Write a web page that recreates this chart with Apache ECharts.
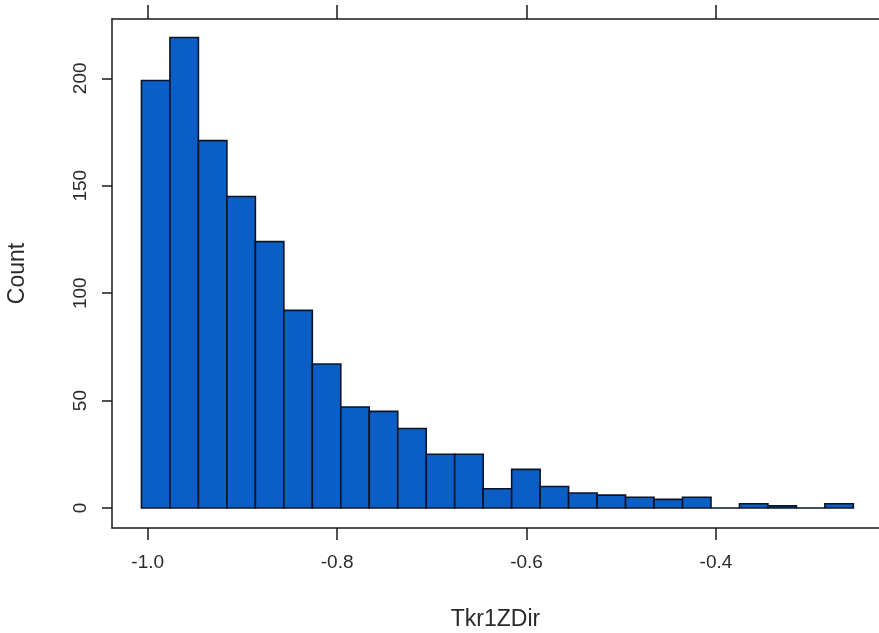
<!DOCTYPE html>
<html>
<head>
<meta charset="utf-8">
<script src="https://cdn.jsdelivr.net/npm/echarts@6/dist/echarts.min.js"></script>
<style>
html,body{margin:0;padding:0;background:#fff;}
#chart{width:879px;height:633px;}
</style>
</head>
<body>
<div id="chart"></div>
<script>
// Histogram of Tkr1ZDir
const binStart = -1.0066;
const binWidth = 0.03007;
const counts = [199, 219, 171, 145, 124, 92, 67, 47, 45, 37, 25, 25, 9, 18, 10, 7, 6, 5, 4, 5, 0, 2, 1, 0, 2];
const xTicks = [-1.0, -0.8, -0.6, -0.4];
const yTicks = [0, 50, 100, 150, 200];
const xName = 'Tkr1ZDir';
const yName = 'Count';

const data = counts.map((c, i) => [binStart + i * binWidth, binStart + (i + 1) * binWidth, c]);

const font = "'Liberation Sans', Arial, sans-serif";
const textColor = '#2a2a2a';
const lineColor = '#1a1a1a';

const chart = echarts.init(document.getElementById('chart'), null, {renderer: 'canvas'});
chart.setOption({
  animation: false,
  backgroundColor: '#fff',
  grid: {left: 112, top: 19, right: 0, bottom: 105, containLabel: false, outerBoundsMode: 'none'},
  xAxis: [{
    type: 'value', position: 'bottom', min: -1.0377, max: -0.2278,
    axisLine: {show: true, onZero: false, lineStyle: {color: lineColor, width: 1.5}},
    axisTick: {show: true, length: 12, customValues: xTicks, lineStyle: {color: lineColor, width: 1.5}},
    axisLabel: {customValues: xTicks, margin: 25, fontSize: 19, fontFamily: font, color: textColor,
      formatter: v => v.toFixed(1)},
    splitLine: {show: false},
    name: xName, nameLocation: 'middle', nameGap: 80,
    nameTextStyle: {fontSize: 23, fontFamily: font, color: textColor}
  }, {
    type: 'value', position: 'top', min: -1.0377, max: -0.2278,
    axisLine: {show: true, onZero: false, lineStyle: {color: lineColor, width: 1.5}},
    axisTick: {show: true, length: 14, customValues: xTicks, lineStyle: {color: lineColor, width: 1.5}},
    axisLabel: {show: false},
    splitLine: {show: false}
  }],
  yAxis: {
    type: 'value', min: -9.3, max: 227.6,
    axisLine: {show: true, onZero: false, lineStyle: {color: lineColor, width: 1.5}},
    axisTick: {show: true, length: 10, customValues: yTicks, lineStyle: {color: lineColor, width: 1.5}},
    axisLabel: {customValues: yTicks, margin: 22, rotate: 90, fontSize: 19, fontFamily: font, color: textColor},
    splitLine: {show: false},
    name: yName, nameLocation: 'middle', nameGap: 83,
    nameTextStyle: {fontSize: 23, fontFamily: font, color: textColor}
  },
  series: [{
    type: 'custom',
    xAxisIndex: 0,
    data: data,
    renderItem: function (params, api) {
      const p0 = api.coord([api.value(0), 0]);
      const p1 = api.coord([api.value(1), api.value(2)]);
      return {
        type: 'rect',
        shape: {x: p0[0], y: p1[1], width: p1[0] - p0[0], height: p0[1] - p1[1]},
        style: {fill: '#0a5ec6', stroke: '#0a1426', lineWidth: 1.6}
      };
    },
    encode: {x: [0, 1], y: 2}
  }]
});
</script>
</body>
</html>
